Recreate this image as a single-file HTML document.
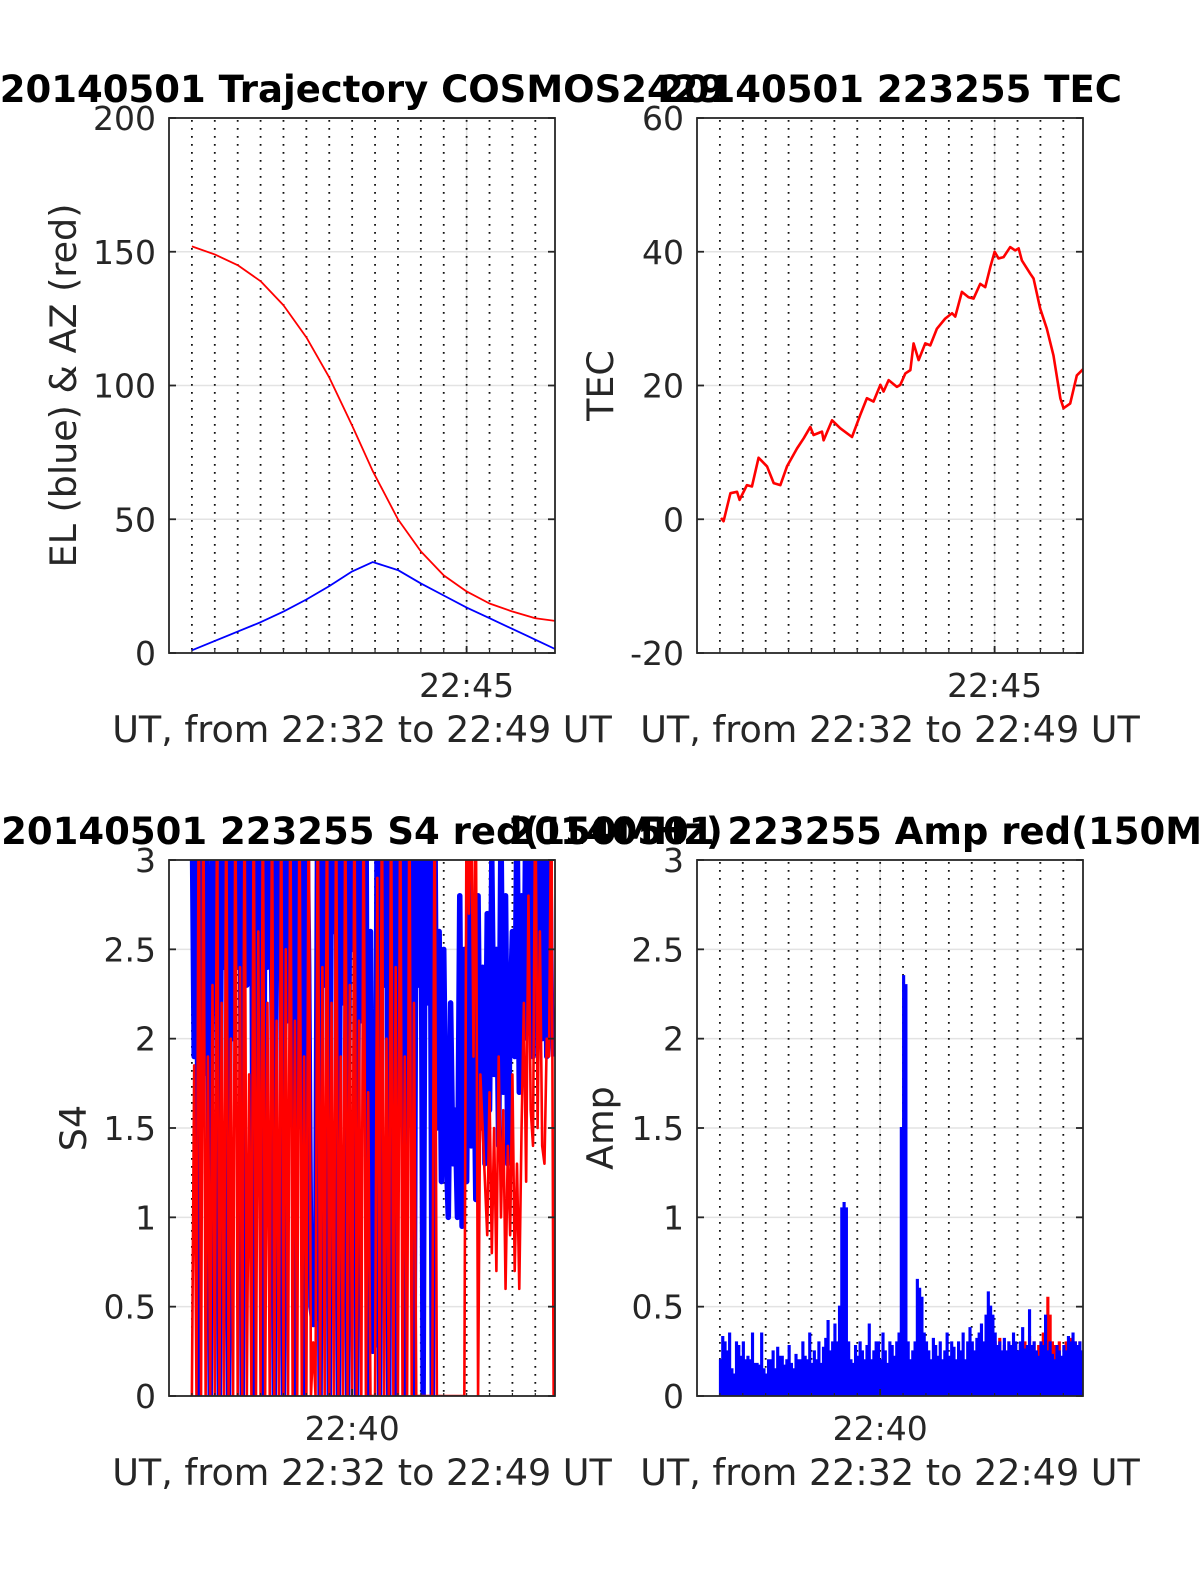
<!DOCTYPE html>
<html><head><meta charset="utf-8"><style>
html,body{margin:0;padding:0;background:#fff;}
svg{display:block;font-family:"DejaVu Sans","Liberation Sans",sans-serif;}
</style></head><body>
<svg id="fig" width="1200" height="1575" viewBox="0 0 1200 1575">
<defs>
<clipPath id="c1"><rect x="169" y="118" width="386" height="535"/></clipPath>
<clipPath id="c2"><rect x="697" y="118" width="386" height="535"/></clipPath>
<clipPath id="c3"><rect x="169" y="860" width="386" height="536"/></clipPath>
<clipPath id="c4"><rect x="697" y="860" width="386" height="536"/></clipPath>
</defs>
</svg>
<script>
// ---------- data ----------
const trajTime = [1,2,3,4,5,6,7,8,8.9,10,11,12,13,14,15,16,16.86];
const azValues = [152,149,145,139,130,118,103,85,68,50,38,29,23,18.5,15.5,13,12];
const elValues = [1,4.5,8,11.5,15.5,20,25,30.5,34,31,26,21.5,17,13,9,5,1.5];

const tecTime = [1.05,1.16,1.46,1.75,1.86,2.18,2.40,2.69,3.06,3.35,3.64,3.93,4.37,4.66,4.95,5.09,5.46,5.53,5.90,6.26,6.77,7.13,7.42,7.71,8.01,8.15,8.37,8.73,8.88,9.10,9.32,9.46,9.68,9.97,10.19,10.48,10.84,11.14,11.28,11.57,11.86,12.08,12.37,12.59,12.81,13.00,13.17,13.39,13.68,13.90,14.05,14.19,14.56,14.70,14.99,15.28,15.57,15.87,16.01,16.30,16.59,16.88];
const tecValues = [0.2,-0.3,3.9,4.1,2.9,5.1,4.9,9.2,7.9,5.4,5.1,7.9,10.6,12.1,13.8,12.6,13.1,11.8,14.8,13.6,12.3,15.6,18.1,17.6,20.1,19.1,20.8,19.8,20.1,21.8,22.3,26.3,23.8,26.3,26.0,28.5,30.0,30.8,30.3,34.0,33.2,33.0,35.2,34.7,37.7,40.0,39.0,39.2,40.7,40.2,40.5,38.7,36.7,36.0,31.5,28.5,24.5,18.1,16.6,17.3,21.5,22.5];

const sampleStart = 1.0, sampleStep = 0.1;
const s4Blue = [3.5,1.9,3.5,0,3.5,1.8,3.5,2.3,0,3.5,
3.5,2.2,0,3.5,2.4,3.5,0,3.5,2.0,3.5,
2.4,3.5,0,3.5,2.3,3.5,3.5,0,3.5,2.6,
3.5,0,3.5,2.4,3.5,2.2,0,3.5,3.5,2.5,
0,3.5,2.1,3.5,3.5,0,3.5,2.2,3.5,0,
3.5,2.4,0.5,0.4,0.45,3.5,0,3.5,2.3,3.5,
0,3.5,2.6,3.5,0,3.5,2.2,3.5,0,3.5,
2.5,3.5,0,3.5,2.1,3.5,3.5,0,2.6,0.25,
0.3,3.5,0,3.5,2.3,3.5,0,3.5,2.4,0,
3.5,2.2,3.5,0,3.5,2.1,3.5,0,3.5,2.3,
3.5,0,3.5,2.2,3.5,0,3.5,1.5,2.6,1.2,
2.5,1.4,1.0,2.2,1.3,1.6,1.0,2.8,0.95,2.5,
1.2,2.9,1.4,2.2,1.1,2.8,1.5,2.4,1.3,2.7,
1.6,3.0,1.8,2.5,1.4,3.2,1.7,2.8,1.3,2.1,
2.6,1.9,3.3,1.7,2.8,2.0,3.5,2.4,3.0,1.9,
3.5,2.2,3.5,2.0,3.3,1.9,3.5,2.2,1.9];
const s4Red = [0,1.85,0,3.5,0,3.5,0,1.9,0,2.3,
0,3.5,0,2.2,0,3.5,0,2.0,0,3.5,
0,2.4,0,3.5,0,1.8,0,3.5,0,2.6,
0,3.5,0,2.2,0,3.5,0,2.1,0,3.5,
0,2.5,0,3.5,0,2.1,0,3.5,0,1.9,
0,3.5,0,0.3,0,3.5,0,2.4,0,3.5,
0,2.2,0,3.5,0,1.9,0,3.5,0,2.3,
0,3.5,0,2.1,0,3.5,0,1.7,0,0,
0,2.9,0,3.5,0,2.0,0,3.5,0,2.4,
0,3.5,0,1.9,0,3.5,0,2.2,0,0,
0,0,0,0,0,0,3.5,0,0,0,
0,0,0,0,0,0,0,0,0,0,
3.5,2.7,3.5,1.9,3.5,0,1.8,1.5,1.2,0.9,
1.7,0.8,1.5,0.7,1.9,1.0,1.6,0.6,1.4,0.9,
1.8,0.7,1.3,0.6,1.5,2.2,1.2,2.8,1.6,1.4,
3.5,1.5,2.6,1.4,1.3,2.0,1.9,3.5,0];

const ampBlue = [0.2,0.33,0.3,0.25,0.35,0.15,0.12,0.3,0.28,0.22,
0.3,0.2,0.22,0.2,0.35,0.18,0.18,0.17,0.35,0.15,
0.12,0.2,0.2,0.25,0.15,0.27,0.22,0.22,0.17,0.2,
0.28,0.18,0.15,0.23,0.2,0.2,0.3,0.22,0.2,0.35,
0.18,0.25,0.2,0.3,0.18,0.27,0.32,0.42,0.25,0.3,
0.4,0.3,0.5,1.05,1.08,1.05,0.3,0.2,0.18,0.28,
0.22,0.3,0.25,0.2,0.28,0.4,0.2,0.25,0.3,0.3,
0.2,0.35,0.25,0.18,0.3,0.28,0.22,0.3,0.35,1.5,
2.35,2.3,0.3,0.2,0.25,0.3,0.65,0.6,0.55,0.35,
0.3,0.25,0.2,0.32,0.28,0.22,0.3,0.2,0.25,0.35,
0.22,0.3,0.27,0.2,0.3,0.25,0.35,0.2,0.3,0.38,
0.3,0.25,0.32,0.35,0.4,0.3,0.45,0.58,0.5,0.45,
0.35,0.28,0.3,0.25,0.32,0.25,0.3,0.28,0.35,0.3,
0.25,0.3,0.38,0.26,0.28,0.48,0.28,0.3,0.25,0.22,
0.3,0.28,0.45,0.25,0.3,0.23,0.2,0.28,0.25,0.22,
0.28,0.25,0.33,0.3,0.35,0.3,0.28,0.3,0.25];
const ampRed = [0,0,0,0,0,0,0,0,0,0, 0,0,0,0,0,0,0,0,0,0, 0,0,0,0,0,0,0,0,0,0, 0,0,0,0,0,0,0,0,0,0,
0,0,0,0,0,0,0,0,0,0, 0,0,0,0,0,0,0.06,0,0,0, 0,0,0,0,0,0,0,0,0,0, 0,0,0,0,0,0,0,0,0,0,
0,0,0,0,0,0,0,0,0,0, 0,0,0,0,0,0,0,0,0,0, 0,0,0,0,0,0,0,0,0,0, 0,0,0,0,0,0,0,0,0,0,
0.3,0,0.32,0,0.28,0,0.3,0,0.3,0, 0,0.28,0,0.3,0,0.33,0,0.3,0,0.28, 0.3,0.35,0.3,0.55,0.45,0.3,0.28,0,0.3,0, 0,0.3,0,0.32,0,0.3,0,0.3,0];

const trajTicks = [0,50,100,150,200];
const tecTicks = [-20,0,20,40,60];
const s4Ticks = [0,0.5,1,1.5,2,2.5,3];
const s4TickLabels = ['0','0.5','1','1.5','2','2.5','3'];

// ---------- drawing ----------
const NS = 'http://www.w3.org/2000/svg';
const fig = document.getElementById('fig');
function el(tag, attrs, parent, text){
  const e = document.createElementNS(NS, tag);
  for (const k in attrs) e.setAttribute(k, attrs[k]);
  if (text !== undefined) e.textContent = text;
  (parent || fig).appendChild(e);
  return e;
}
const TMAX = 16.86;
function makeAxes(name, L, T, W, H, ymin, ymax, yticks, ylabels, xtick, xtickLabel, title, ylab, ylabX){
  const g = el('g', {});
  
  
  const ax = {
    x: t => L + t / TMAX * W,
    y: v => T + H - (v - ymin) / (ymax - ymin) * H,
    g: g
  };
  yticks.forEach((v, i) => {
    const yy = ax.y(v);
    if (i > 0 && i < yticks.length - 1) {
      const gl = el('line', {x1: L, x2: L + W, y1: yy, y2: yy, stroke: '#e3e3e3', 'stroke-width': 1.5}, g);
      
      
    }
  });
  const gx = el('line', {x1: ax.x(xtick), x2: ax.x(xtick), y1: T, y2: T + H, stroke: '#e3e3e3', 'stroke-width': 1.5}, g);
  
  
  for (let m = 1; m <= 16; m++) {
    const d = el('line', {x1: ax.x(m), x2: ax.x(m), y1: T + 2, y2: T + H, stroke: '#111', 'stroke-width': 1.8, 'stroke-dasharray': '1.8 6.2'}, g);
    
    
  }
  const plot = el('g', {'clip-path': 'url(#' + name.slice(-2) + ')'}, g);
  
  
  ax.plot = plot;
  ax.finish = function(){
    const box = el('rect', {x: L, y: T, width: W, height: H, fill: 'none', stroke: '#262626', 'stroke-width': 1.8}, g);
    
    
    yticks.forEach((v, i) => {
      const yy = ax.y(v);
      el('line', {x1: L, x2: L + 7, y1: yy, y2: yy, stroke: '#262626', 'stroke-width': 1.8}, g);
      el('line', {x1: L + W - 7, x2: L + W, y1: yy, y2: yy, stroke: '#262626', 'stroke-width': 1.8}, g);
      const tl = el('text', {x: L - 13, y: yy + 12, 'text-anchor': 'end', 'font-size': 33, fill: '#262626'}, g, ylabels[i]);
      
      
    });
    for (let m = 1; m <= 16; m++) {
      el('line', {x1: ax.x(m), x2: ax.x(m), y1: T + H - 3, y2: T + H, stroke: '#262626', 'stroke-width': 1.2}, g);
    }
    el('line', {x1: ax.x(xtick), x2: ax.x(xtick), y1: T + H - 7, y2: T + H, stroke: '#262626', 'stroke-width': 1.8}, g);
    const xl = el('text', {x: ax.x(xtick), y: T + H + 44, 'text-anchor': 'middle', 'font-size': 33, fill: '#262626'}, g, xtickLabel);
    
    
    const xt = el('text', {x: L + W / 2, y: T + H + 89, 'text-anchor': 'middle', 'font-size': 36.5, fill: '#262626'}, g, 'UT, from 22:32 to 22:49 UT');
    
    
    const yt = el('text', {x: 0, y: 0, 'text-anchor': 'middle', 'font-size': 36.5, fill: '#262626', transform: 'translate(' + ylabX + ',' + (T + H / 2) + ') rotate(-90)'}, g, ylab);
    
    
    const tt = el('text', {x: L + W / 2, y: T - 16, 'text-anchor': 'middle', 'font-size': 37, 'font-weight': 'bold', fill: '#000'}, g, title);
    
    
  };
  return ax;
}
function line(ax, ts, vs, color, w, name){
  const pts = ts.map((t, i) => ax.x(t).toFixed(2) + ',' + ax.y(vs[i]).toFixed(2)).join(' ');
  const p = el('polyline', {points: pts, fill: 'none', stroke: color, 'stroke-width': w, 'stroke-linejoin': 'round'}, ax.plot);
  
  
  return p;
}
function sampleTimes(arr){ return arr.map((_, i) => sampleStart + i * sampleStep); }
function stems(ax, vs, color, w, name){
  const pts = [];
  vs.forEach((v, i) => {
    const t = sampleStart + i * sampleStep;
    pts.push(ax.x(t).toFixed(2) + ',' + ax.y(0).toFixed(2));
    pts.push(ax.x(t).toFixed(2) + ',' + ax.y(v).toFixed(2));
    pts.push(ax.x(t + sampleStep * 0.5).toFixed(2) + ',' + ax.y(v).toFixed(2));
    pts.push(ax.x(t + sampleStep * 0.5).toFixed(2) + ',' + ax.y(0).toFixed(2));
  });
  const p = el('polyline', {points: pts.join(' '), fill: color, stroke: color, 'stroke-width': w}, ax.plot);
  
  
}

const a1 = makeAxes('trajectory-panel-c1', 169, 118, 386, 535, 0, 200, trajTicks, trajTicks.map(String), 13, '22:45', '20140501 Trajectory COSMOS2429', 'EL (blue) & AZ (red)', 76);
line(a1, trajTime, azValues, '#ff0000', 1.8, 'azimuth-line');
line(a1, trajTime, elValues, '#0000ff', 1.8, 'elevation-line');
a1.finish();

const a2 = makeAxes('tec-panel-c2', 697, 118, 386, 535, -20, 60, tecTicks, tecTicks.map(String), 13, '22:45', '20140501 223255 TEC', 'TEC', 613);
line(a2, tecTime, tecValues, '#ff0000', 2.6, 'tec-line');
a2.finish();

const a3 = makeAxes('s4-panel-c3', 169, 860, 386, 536, 0, 3, s4Ticks, s4TickLabels, 8, '22:40', '20140501 223255 S4 red(150MHz)', 'S4', 86);
line(a3, sampleTimes(s4Blue), s4Blue, '#0000ff', 5.5, 's4-blue-line');
line(a3, sampleTimes(s4Red), s4Red, '#ff0000', 2.6, 's4-red-line');
a3.finish();

const a4 = makeAxes('amp-panel-c4', 697, 860, 386, 536, 0, 3, s4Ticks, s4TickLabels, 8, '22:40', '20140501 223255 Amp red(150MHz)', 'Amp', 613);
stems(a4, ampRed, '#ff0000', 2, 'amp-red-line');
stems(a4, ampBlue, '#0000ff', 2, 'amp-blue-line');
a4.finish();
</script>
</body></html>
